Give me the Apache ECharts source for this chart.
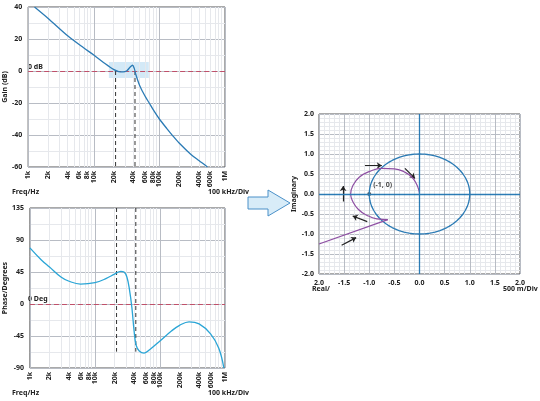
<!DOCTYPE html>
<html><head><meta charset="utf-8">
<script src="https://cdn.jsdelivr.net/npm/echarts@6/dist/echarts.min.js"></script>
<style>html,body{margin:0;padding:0;background:#fff}#c{width:540px;height:401px}</style>
</head><body><div id="c"></div>
<script>
// ---- data ----
const freqTicks = [1e3,2e3,4e3,6e3,8e3,1e4,2e4,4e4,6e4,8e4,1e5,2e5,4e5,6e5,8e5,1e6];
const freqTickLabels = ['1k','2k','4k','6k','8k','10k','20k','40k','60k','80k','100k','200k','400k','600k','800k','1M'];
const gainFreq = [1.25e3,2e3,4e3,7e3,1e4,1.5e4,2e4,2.4e4,2.8e4,3.2e4,3.6e4,3.9e4,4.15e4,4.4e4,5e4,6e4,7e4,8e4,1e5,1.3e5,1.6e5,2e5,3e5,4e5,5.4e5];
const gainDb   = [40,33,22,14.5,10,4.5,1,-0.4,-0.6,0.2,2.5,3.6,1.5,-2.5,-9,-15.5,-20,-24,-30,-36,-40.5,-45,-52,-56,-60];
const phaseFreq = [1e3,1.5e3,2e3,3e3,4e3,6e3,1e4,1.5e4,2e4,2.5e4,2.8e4,3.1e4,3.4e4,3.7e4,4e4,4.3e4,4.8e4,5.7e4,7e4,1e5,1.5e5,2e5,2.8e5,4e5,6e5,8e5,9.6e5];
const phaseDeg  = [79,62,52,38,32,28,30,36,42,46,45,38,20,-5,-38,-58,-66,-69,-64,-52,-38,-30,-25,-28,-42,-62,-90];
const nyqLine = [[-2,-1.25],[-0.63,-0.64]];
const nyqArc = [[-0.63,-0.64],[-0.85,-0.62],[-1.05,-0.53],[-1.22,-0.38],[-1.33,-0.18],[-1.37,0.0],[-1.33,0.2],[-1.2,0.42],[-1.0,0.56],[-0.75,0.64],[-0.5,0.63],[-0.3,0.55],[-0.15,0.42],[-0.06,0.25],[-0.01,0.08],[0,0]];
const nyqArrows = [[[-1.085,0.71],[-0.75,0.71]],[[-0.29,0.64],[-0.09,0.39]],[[-1.52,-0.19],[-1.52,0.2]],[[-1.04,-0.69],[-1.33,-0.55]],[[-1.55,-1.28],[-1.26,-1.09]]];
const crossFreqs = [2.15e4,4.25e4];

const L = Math.log10;
const FONT = 'Noto Sans';
const txt = {fontFamily:FONT,fontSize:7,fontWeight:'bold',color:'#222'};
const minorFreqs = [];
[3,4,5].forEach(d=>{for(let k=2;k<=9;k++)minorFreqs.push(k*Math.pow(10,d));});

function bodeX(gi){
  return {type:'value',gridIndex:gi,min:3,max:6,interval:1,
    axisLine:{show:false},axisTick:{show:false},
    splitLine:{show:true,lineStyle:{color:'#b8bcc4',width:1}},
    axisLabel:{...txt,rotate:90,margin:4,showMaxLabel:true,showMinLabel:true,customValues:freqTicks.map(L),
      formatter:v=>{const i=freqTicks.findIndex(f=>Math.abs(L(f)-v)<1e-6);return i>=0?freqTickLabels[i]:'';}}};
}
function bodeY(gi,min,max,iv,name){
  return {type:'value',gridIndex:gi,min,max,interval:iv,
    name,nameLocation:'middle',nameGap:16,nameTextStyle:{...txt},
    axisLine:{show:false},axisTick:{show:false},
    axisLabel:{...txt,margin:6},
    splitLine:{lineStyle:{color:'#b8bcc4'}},
    minorTick:{show:false,splitNumber:2},
    minorSplitLine:{show:true,lineStyle:{color:'#e6e8ec'}}};
}
function minorV(xi,yi){
  return {type:'line',xAxisIndex:xi,yAxisIndex:yi,data:[],silent:true,
    markLine:{symbol:'none',silent:true,label:{show:false},
      lineStyle:{color:'#e6e8ec',width:1,type:'solid'},
      data:minorFreqs.map(f=>({xAxis:L(f)}))}};
}

const circle=[];for(let i=0;i<=120;i++){const a=i/120*2*Math.PI;circle.push([Math.cos(a),Math.sin(a)]);}

const series = [
  minorV(0,0), minorV(1,1),
  {type:'line',xAxisIndex:0,yAxisIndex:0,data:gainFreq.map((f,i)=>[L(f),gainDb[i]]),smooth:0.3,symbol:'none',
    lineStyle:{color:'#2b7bb5',width:1.3},z:5,
    markArea:{silent:true,itemStyle:{color:'rgba(175,215,240,0.55)'},data:[[{coord:[L(1.7e4),5.6]},{coord:[L(6.9e4),-4.4]}]]},
    markLine:{symbol:'none',silent:true,label:{show:false},lineStyle:{color:'#c0506a',type:[5,3],width:1},data:[{yAxis:0}]}},
  ...crossFreqs.map(f=>({type:'line',xAxisIndex:0,yAxisIndex:0,data:[[L(f),0],[L(f),-60]],symbol:'none',lineStyle:{color:'#333',type:[4,3],width:1}})),
  {type:'line',xAxisIndex:1,yAxisIndex:1,data:phaseFreq.map((f,i)=>[L(f),phaseDeg[i]]),smooth:0.4,symbol:'none',
    lineStyle:{color:'#2aa5d6',width:1.3},z:5,
    markLine:{symbol:'none',silent:true,label:{show:false},lineStyle:{color:'#c0506a',type:[5,3],width:1},data:[{yAxis:0}]}},
  ...crossFreqs.map(f=>({type:'line',xAxisIndex:1,yAxisIndex:1,data:[[L(f),135],[L(f),-67]],symbol:'none',lineStyle:{color:'#333',type:[4,3],width:1}})),
  {type:'line',xAxisIndex:2,yAxisIndex:2,data:[],markLine:{symbol:'none',silent:true,label:{show:false},lineStyle:{color:'#2b7bb5',width:1.3,type:'solid'},data:[{xAxis:0},{yAxis:0}]}},
  {type:'line',xAxisIndex:2,yAxisIndex:2,data:circle,symbol:'none',lineStyle:{color:'#2b7bb5',width:1.3}},
  {type:'line',xAxisIndex:2,yAxisIndex:2,data:nyqLine,symbol:'none',lineStyle:{color:'#8e4fa3',width:1.2}},
  {type:'line',xAxisIndex:2,yAxisIndex:2,data:nyqArc,smooth:0.5,symbol:'none',lineStyle:{color:'#8e4fa3',width:1.2}},
  ...nyqArrows.map(a=>({type:'lines',coordinateSystem:'cartesian2d',xAxisIndex:2,yAxisIndex:2,
    symbol:['none','arrow'],symbolSize:5,lineStyle:{color:'#222',width:1.2,opacity:1},data:[{coords:a}]})),
  {type:'scatter',xAxisIndex:2,yAxisIndex:2,data:[[-1,0]],symbolSize:4,itemStyle:{color:'#333'},
    label:{show:true,formatter:'(-1, 0)',position:[6,-11],...txt}}
];

const chart = echarts.init(document.getElementById('c'),null,{renderer:'canvas'});
chart.setOption({
  animation:false,
  grid:[{left:24,top:7,width:201,height:160,show:true,borderColor:'#555',borderWidth:1},
        {left:24,top:208,width:201,height:160,show:true,borderColor:'#555',borderWidth:1},
        {left:319,top:114,width:201,height:160,show:true,borderColor:'#555',borderWidth:1}],
  xAxis:[bodeX(0),bodeX(1),
    {type:'value',gridIndex:2,min:-2,max:2,interval:0.5,axisLine:{show:false},axisTick:{show:false},
     axisLabel:{...txt,margin:5,formatter:v=>v===-2?'2.0':v.toFixed(1)},
     splitLine:{lineStyle:{color:'#b8bcc4'}},minorTick:{show:false,splitNumber:5},minorSplitLine:{show:true,lineStyle:{color:'#e6e8ec'}}}],
  yAxis:[bodeY(0,-60,40,20,'Gain (dB)'),bodeY(1,-90,135,45,'Phase/Degrees'),
    {type:'value',gridIndex:2,min:-2,max:2,interval:0.5,axisLine:{show:false},axisTick:{show:false},
     name:'Imaginary',nameLocation:'middle',nameGap:20,nameTextStyle:{...txt},
     axisLabel:{...txt,margin:5,formatter:v=>v.toFixed(1)},
     splitLine:{lineStyle:{color:'#b8bcc4'}},minorTick:{show:false,splitNumber:5},minorSplitLine:{show:true,lineStyle:{color:'#e6e8ec'}}}],
  series,
  graphic:[
    {type:'text',left:12,top:188,style:{text:'Freq/Hz',font:'bold 7px "Noto Sans"',fill:'#222'}},
    {type:'text',left:208,top:188,style:{text:'100 kHz/Div',font:'bold 7px "Noto Sans"',fill:'#222'}},
    {type:'text',left:12,top:389,style:{text:'Freq/Hz',font:'bold 7px "Noto Sans"',fill:'#222'}},
    {type:'text',left:208,top:389,style:{text:'100 kHz/Div',font:'bold 7px "Noto Sans"',fill:'#222'}},
    {type:'text',left:28,top:63,style:{text:'0 dB',font:'bold 7px "Noto Sans"',fill:'#222'}},
    {type:'text',left:28,top:295,style:{text:'0 Deg',font:'bold 7px "Noto Sans"',fill:'#222'}},
    {type:'text',left:312,top:285,style:{text:'Real/',font:'bold 7px "Noto Sans"',fill:'#222'}},
    {type:'text',left:503,top:285,style:{text:'500 m/Div',font:'bold 7px "Noto Sans"',fill:'#222'}},
    {type:'polygon',shape:{points:[[248,197],[268,197],[268,190],[290,203],[268,216],[268,209],[248,209]]},
      style:{fill:'#d8ecf8',stroke:'#4a90c8',lineWidth:1}}
  ]
});
</script></body></html>
